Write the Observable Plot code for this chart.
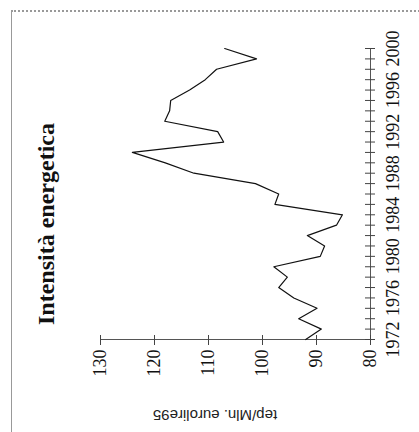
<!DOCTYPE html>
<html>
<head>
<meta charset="utf-8">
<script src="https://cdn.jsdelivr.net/npm/d3@7"></script>
<script src="https://cdn.jsdelivr.net/npm/@observablehq/plot@0.6"></script>
<style>
  html, body { margin: 0; padding: 0; background: #fff; }
  #page { position: relative; width: 419px; height: 432px; overflow: hidden; background: #fff; }
  #frame { position: absolute; left: 11px; top: 10px; width: 420px; height: 430px;
           border-top: 2px dotted #999; border-left: 1px solid #999; box-sizing: border-box; }
  #rot { position: absolute; left: 0; top: 0; width: 432px; height: 419px;
         transform-origin: 0 0; transform: translate(0px, 432px) rotate(-90deg); }
  #title { position: absolute; left: 58px; top: 34px; width: 300px; text-align: center;
           font: bold 24px "Liberation Serif", "Times New Roman", serif; line-height: 1; color: #111; }
  #ylabel { position: absolute; left: -83px; top: 206px; width: 200px; height: 18px; line-height: 18px;
            text-align: center; font: 15px "Liberation Sans", Arial, sans-serif; color: #222;
            transform: rotate(-90deg); }
  #chart { position: absolute; left: 0; top: 0; }
</style>
</head>
<body>
<div id="page">
  <div id="frame"></div>
  <div id="rot">
    <div id="chart"></div>
    <div id="title">Intensità energetica</div>
    <div id="ylabel">tep/Mln. eurolire95</div>
  </div>
</div>
<script>
const years = [1972, 1973, 1974, 1975, 1976, 1977, 1978, 1979, 1980, 1981, 1982, 1983, 1984, 1985,
               1986, 1987, 1988, 1989, 1990, 1991, 1992, 1993, 1994, 1995, 1996, 1997, 1998, 1999, 2000];
const values = [92.0, 89.1, 93.3, 89.9, 94.2, 97.0, 95.4, 97.9, 89.3, 88.5, 91.7, 86.3, 85.2, 97.7,
                97.0, 101.3, 112.7, 118.0, 124.1, 107.2, 108.3, 118.1, 117.2, 117.0, 113.5, 110.6, 108.5, 101.1, 107.0];
const yearLabels = [1972, 1976, 1980, 1984, 1988, 1992, 1996, 2000];
const valueTicks = [80, 90, 100, 110, 120, 130];

const data = years.map((y, i) => ({year: y, value: values[i]}));

const chart = Plot.plot({
  width: 432,
  height: 419,
  marginLeft: 92,
  marginRight: 49,
  marginTop: 100,
  marginBottom: 49,
  x: {domain: [1972, 2000]},
  y: {domain: [80, 130]},
  style: {fontFamily: "'Liberation Serif', 'Times New Roman', serif", fontSize: "18px",
          background: "transparent", color: "#111", overflow: "visible"},
  marks: [
    Plot.ruleX([1972], {stroke: "#555", strokeWidth: 1}),
    Plot.ruleY([80], {stroke: "#555", strokeWidth: 1}),
    Plot.tickY(valueTicks, {y: d => d, insetLeft: -5, insetRight: 286, stroke: "#444"}),
    Plot.tickX(years, {x: d => d, insetTop: 265, insetBottom: -5, stroke: "#444"}),
    Plot.line(data, {x: "year", y: "value", stroke: "#111", strokeWidth: 1.2}),
    Plot.axisX({ticks: yearLabels, tickSize: 0, tickPadding: 16, tickFormat: d => String(d), label: null}),
    Plot.axisY({ticks: valueTicks, tickSize: 0, tickPadding: 10, tickFormat: d => String(d), label: null})
  ]
});
document.getElementById("chart").appendChild(chart);
</script>
</body>
</html>
